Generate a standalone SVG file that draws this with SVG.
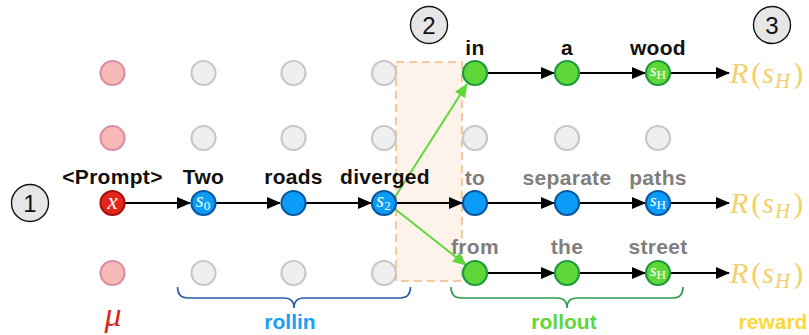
<svg xmlns="http://www.w3.org/2000/svg" width="809" height="335" viewBox="0 0 809 335">
<style>
.lbl{font-family:"Liberation Sans",Arial,sans-serif;font-weight:bold;font-size:21px;letter-spacing:0.3px;text-anchor:middle;fill:#111}
.gl{fill:#7f7f7f}
.num{font-family:"Liberation Sans",Arial,sans-serif;font-size:24px;text-anchor:middle;fill:#111}
.nc{fill:#e6e6e6;stroke:#111;stroke-width:1.4}
.gray{fill:#efefef;stroke:#c8c8c8;stroke-width:2.2}
.pink{fill:#f6b9b6;stroke:#dc8ea4;stroke-width:2.2}
.red{fill:#e3261c;stroke:#a31410;stroke-width:2.2}
.blue{fill:#0b9cf7;stroke:#0a58a0;stroke-width:2.2}
.green{fill:#5fd73b;stroke:#1c9a3c;stroke-width:2.2}
.m{font-family:"Liberation Serif","Times New Roman",serif;font-style:italic;fill:#fff;text-anchor:middle}
.sub{font-style:normal;font-size:13px}
.rw{font-family:"Liberation Serif","Times New Roman",serif;font-size:30px;fill:#f3d16a}
.ar{stroke:#000;stroke-width:2;fill:none;marker-end:url(#ah)}
.ga{stroke:#5fd73b;stroke-width:2;fill:none;marker-end:url(#gh)}
.bot{font-family:"Liberation Sans",Arial,sans-serif;font-weight:bold;font-size:21px;text-anchor:middle}
</style>
<defs>
<marker id="ah" markerUnits="userSpaceOnUse" markerWidth="14" markerHeight="12" refX="13" refY="6" orient="auto">
<path d="M0,0 L14,6 L0,12 z" fill="#000"/>
</marker>
<marker id="gh" markerUnits="userSpaceOnUse" markerWidth="14" markerHeight="12" refX="13" refY="6" orient="auto">
<path d="M0,0 L14,6 L0,12 z" fill="#5fd73b"/>
</marker>
</defs>

<g id="rollout-box">
<rect x="396" y="62" width="66" height="219" fill="#fdf3ea" stroke="#f3c9a0" stroke-width="2.2" stroke-dasharray="8,5"/>
</g>

<g id="markers">
<g id="m1"><circle class="nc" cx="30" cy="203" r="18.5"/><text class="num" x="30" y="212">1</text></g>
<g id="m2"><circle class="nc" cx="429" cy="25" r="18.5"/><text class="num" x="429" y="34">2</text></g>
<g id="m3"><circle class="nc" cx="772" cy="25" r="18.5"/><text class="num" x="772" y="34">3</text></g>
</g>

<g id="connectors">
<line class="ar" x1="125" y1="203" x2="190" y2="203"/>
<line class="ar" x1="216" y1="203" x2="280" y2="203"/>
<line class="ar" x1="306" y1="203" x2="371" y2="203"/>
<line class="ar" x1="396" y1="203" x2="462" y2="203"/>
<line class="ar" x1="487" y1="203" x2="554" y2="203"/>
<line class="ar" x1="579" y1="203" x2="645" y2="203"/>
<line class="ar" x1="670" y1="203" x2="729" y2="203"/>
<line class="ar" x1="487" y1="73" x2="554" y2="73"/>
<line class="ar" x1="579" y1="73" x2="645" y2="73"/>
<line class="ar" x1="670" y1="73" x2="729" y2="73"/>
<line class="ar" x1="487" y1="273" x2="554" y2="273"/>
<line class="ar" x1="579" y1="273" x2="645" y2="273"/>
<line class="ar" x1="670" y1="273" x2="729" y2="273"/>
<line class="ga" x1="395" y1="197" x2="467" y2="84"/>
<line class="ga" x1="395" y1="209" x2="466" y2="265"/>
</g>

<g id="col0">
<circle class="pink" cx="112.5" cy="73" r="12"/>
<circle class="pink" cx="112.5" cy="138" r="12"/>
<circle class="pink" cx="112.5" cy="273" r="12"/>
</g>
<g id="node-x"><circle class="red" cx="112.5" cy="203" r="12"/><text class="m" x="112.5" y="209" font-size="23">x</text><text class="lbl" x="112.5" y="184">&lt;Prompt&gt;</text></g>

<g id="col1">
<circle class="gray" cx="203.5" cy="73" r="12"/>
<circle class="gray" cx="203.5" cy="138" r="12"/>
<circle class="gray" cx="203.5" cy="273" r="12"/>
</g>
<g id="node-s0"><circle class="blue" cx="203.5" cy="203" r="12"/><text class="m" x="203" y="207" font-size="20">s<tspan class="sub" dy="3">0</tspan></text><text class="lbl" x="203.5" y="184">Two</text></g>

<g id="col2">
<circle class="gray" cx="293.5" cy="73" r="12"/>
<circle class="gray" cx="293.5" cy="138" r="12"/>
<circle class="gray" cx="293.5" cy="273" r="12"/>
</g>
<g id="node-roads"><circle class="blue" cx="293.5" cy="203" r="12"/><text class="lbl" x="293.5" y="184">roads</text></g>

<g id="col3">
<circle class="gray" cx="384" cy="73" r="12"/>
<circle class="gray" cx="384" cy="138" r="12"/>
<circle class="gray" cx="384" cy="273" r="12"/>
</g>
<g id="node-s2"><circle class="blue" cx="384" cy="203" r="12"/><text class="m" x="383.5" y="207" font-size="20">s<tspan class="sub" dy="3">2</tspan></text><text class="lbl" x="385" y="184">diverged</text></g>

<g id="col4">
<circle class="gray" cx="475" cy="138" r="12"/>
</g>
<g id="node-in"><circle class="green" cx="475" cy="73" r="12"/><text class="lbl" x="475" y="55">in</text></g>
<g id="node-to"><circle class="blue" cx="475" cy="203" r="12"/><text class="lbl gl" x="475" y="185">to</text></g>
<g id="node-from"><circle class="green" cx="475" cy="273" r="12"/><text class="lbl gl" x="475" y="254">from</text></g>

<g id="col5">
<circle class="gray" cx="567" cy="138" r="12"/>
</g>
<g id="node-a"><circle class="green" cx="567" cy="73" r="12"/><text class="lbl" x="567" y="55">a</text></g>
<g id="node-separate"><circle class="blue" cx="567" cy="203" r="12"/><text class="lbl gl" x="567" y="185">separate</text></g>
<g id="node-the"><circle class="green" cx="567" cy="273" r="12"/><text class="lbl gl" x="567" y="254">the</text></g>

<g id="col6">
<circle class="gray" cx="658" cy="138" r="12"/>
</g>
<g id="node-wood"><circle class="green" cx="658" cy="73" r="12"/><text class="m" x="658" y="76" font-size="17">s<tspan class="sub" font-size="12" dy="3" font-style="italic">H</tspan></text><text class="lbl" x="658" y="55">wood</text></g>
<g id="node-paths"><circle class="blue" cx="658" cy="203" r="12"/><text class="m" x="658" y="206" font-size="17">s<tspan class="sub" font-size="12" dy="3" font-style="italic">H</tspan></text><text class="lbl gl" x="658" y="185">paths</text></g>
<g id="node-street"><circle class="green" cx="658" cy="273" r="12"/><text class="m" x="658" y="276" font-size="17">s<tspan class="sub" font-size="12" dy="3" font-style="italic">H</tspan></text><text class="lbl gl" x="658" y="254">street</text></g>

<g id="rewards">
<text class="rw" x="730" y="83"><tspan font-style="italic">R</tspan><tspan dx="3">(</tspan><tspan font-style="italic" dx="1">s</tspan><tspan font-style="italic" font-size="21" dy="5" dx="1">H</tspan><tspan dy="-5" dx="3">)</tspan></text>
<text class="rw" x="730" y="213"><tspan font-style="italic">R</tspan><tspan dx="3">(</tspan><tspan font-style="italic" dx="1">s</tspan><tspan font-style="italic" font-size="21" dy="5" dx="1">H</tspan><tspan dy="-5" dx="3">)</tspan></text>
<text class="rw" x="730" y="283"><tspan font-style="italic">R</tspan><tspan dx="3">(</tspan><tspan font-style="italic" dx="1">s</tspan><tspan font-style="italic" font-size="21" dy="5" dx="1">H</tspan><tspan dy="-5" dx="3">)</tspan></text>
</g>

<g id="braces">
<path d="M177.5,287 Q177.5,298 188,298 L284,298 Q294,298 294,308 Q294,298 304,298 L400,298 Q410.5,298 410.5,287" fill="none" stroke="#2a5ea8" stroke-width="1.6"/>
<path d="M451,287 Q451,298 461,298 L557,298 Q567,298 567,308 Q567,298 577,298 L673,298 Q683,298 683,287" fill="none" stroke="#2a9a4a" stroke-width="1.6"/>
</g>

<g id="bottom-labels">
<text x="113" y="326" font-family="Liberation Serif, Times New Roman, serif" font-style="italic" font-size="34" fill="#d42a20" text-anchor="middle">μ</text>
<text class="bot" x="290" y="329" fill="#1aa0f2">rollin</text>
<text class="bot" x="564" y="329" fill="#5fd73b">rollout</text>
<text class="bot" x="773" y="329" fill="#fdd835">reward</text>
</g>
</svg>
